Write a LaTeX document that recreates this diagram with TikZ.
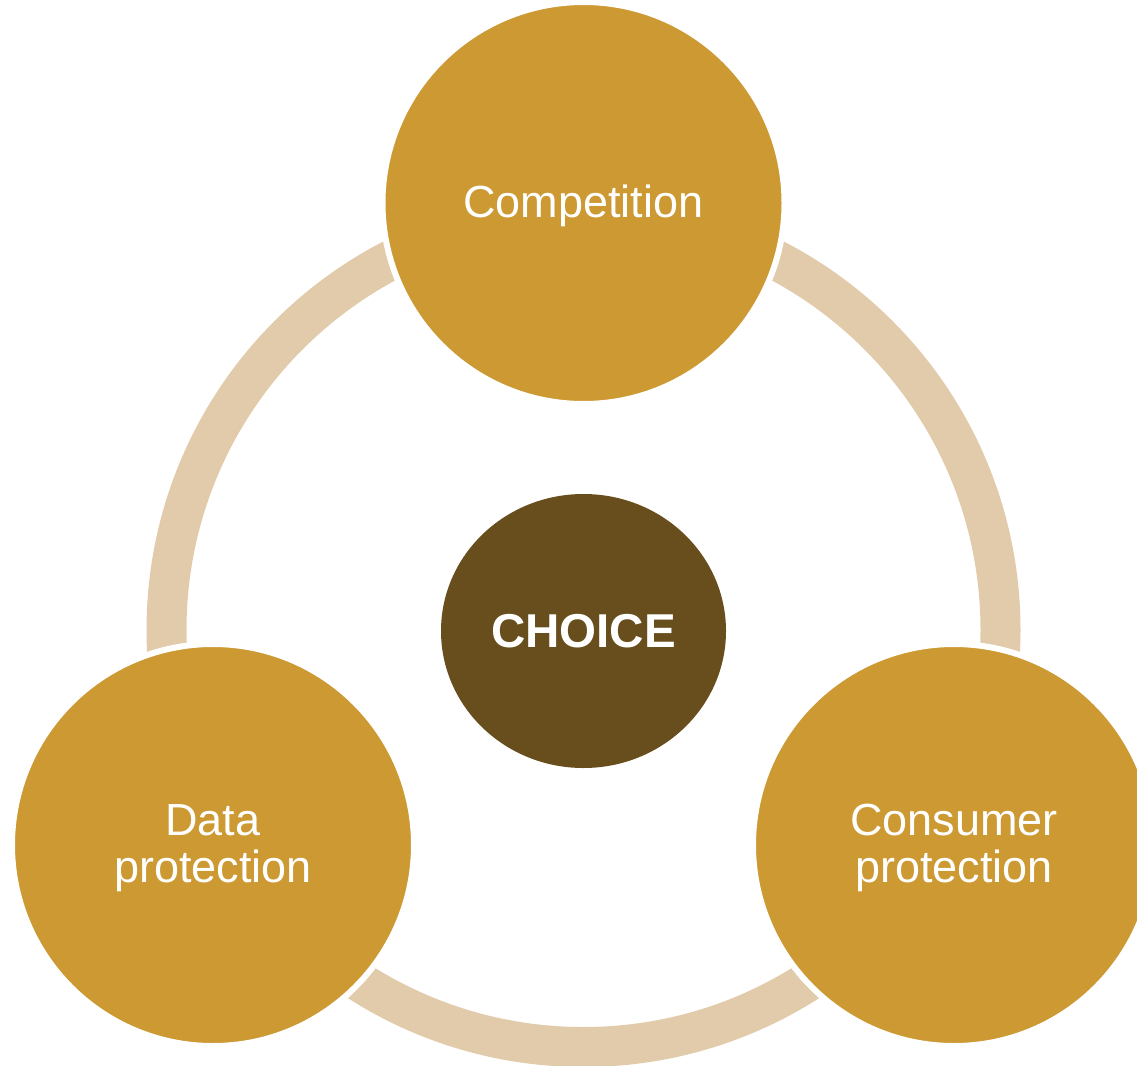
\documentclass[tikz,border=0pt]{standalone}
\usepackage{fontspec}
\setmainfont{Liberation Sans}
\usetikzlibrary{shapes.geometric}
\definecolor{gold}{HTML}{CC9933}
\definecolor{ringtan}{HTML}{E1CBAB}
\definecolor{darkbrown}{HTML}{674E1C}
\tikzset{
  ringband/.style={draw=ringtan, line width=40pt},
  topic/.style={circle, minimum size=402pt, inner sep=0pt, fill=gold,
    draw=white, line width=6pt,
    label={[text=white, align=center, inner sep=0pt, yshift=-3pt,
      font=\fontsize{45}{47}\selectfont]center:#1}},
  core/.style={ellipse, minimum width=285pt, minimum height=274pt, inner sep=0pt,
    fill=darkbrown, text=white, font=\fontsize{47.5}{50}\selectfont\bfseries}
}
\begin{document}
\begin{tikzpicture}[x=1pt, y=-1pt]
  \path[use as bounding box] (0,0) rectangle (1137,1065);
  \clip (0,0) rectangle (1137,1065);
  % connecting ring behind the three topics
  \coordinate (hub) at (583.5,630);
  \draw[ringband] (hub) circle[radius=417pt];
  % three topics on the ring
  \node[topic={Competition}] (comp) at (583.5,203) {};
  \node[topic={Data\\protection}] (data) at (213,845) {};
  \node[topic={Consumer\\protection}] (cons) at (954,845) {};
  % centre
  \node[core] (choice) at (583.5,631) {CHOICE};
\end{tikzpicture}
\end{document}
